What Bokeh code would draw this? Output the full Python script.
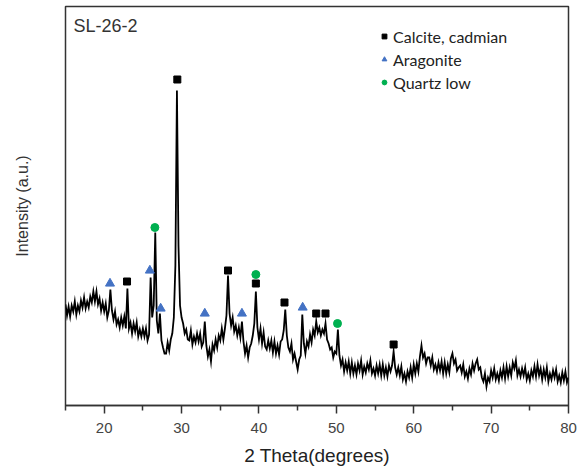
import numpy as np
from bokeh.plotting import figure
from bokeh.models import Range1d, FixedTicker, Legend, LegendItem, Label
from bokeh.embed import file_html
from bokeh.resources import INLINE

intensity = [
    101, 90, 99, 89, 100,    # 15
    94, 104, 91, 100, 94,    # 16
    105, 98, 108, 97, 104,   # 17
    98, 109, 103, 114, 104,  # 18
    114, 101, 107, 95, 103,  # 19
    94, 102, 88, 95, 116,    # 20
    95, 86, 94, 81, 86,      # 21
    78, 88, 80, 89, 77,      # 22
    117, 77, 83, 72, 82,     # 23
    74, 83, 69, 76, 69,      # 24
    77, 69, 77, 65, 71,      # 25
    128, 88, 100, 173, 85,   # 26
    72, 92, 65, 58, 52,      # 27
    52, 63, 55, 66, 72,      # 28
    88, 140, 315, 160, 100,  # 29
    88, 82, 72, 76, 66,      # 30
    65, 75, 61, 69, 63,      # 31
    72, 64, 72, 59, 63,      # 32
    84, 60, 49, 56, 44,      # 33
    61, 55, 66, 58, 70,      # 34
    65, 77, 66, 77, 90,      # 35
    130, 92, 80, 88, 74,     # 36
    80, 70, 78, 68, 84,      # 37
    64, 52, 60, 48, 58,      # 38
    62, 70, 82, 114, 78,     # 39
    66, 77, 62, 73, 59,      # 40
    56, 65, 57, 65, 53,      # 41
    64, 52, 60, 51, 64,      # 42
    66, 75, 96, 70, 58,      # 43
    54, 62, 46, 52, 44,      # 44
    36, 46, 50, 91, 62,      # 45
    52, 64, 59, 71, 63,      # 46
    76, 70, 84, 73, 78,      # 47
    70, 76, 72, 82, 66,      # 48
    62, 56, 58, 48, 54,      # 49
    52, 76, 50, 40, 46,      # 50
    34, 43, 35, 44, 32,      # 51
    43, 32, 40, 31, 42,      # 52
    35, 45, 31, 39, 33,      # 53
    42, 36, 45, 32, 37,      # 54
    30, 40, 32, 41, 30,      # 55
    41, 30, 38, 29, 40,      # 56
    34, 40, 54, 38, 31,      # 57
    38, 30, 39, 26, 32,      # 58
    24, 34, 28, 38, 28,      # 59
    41, 32, 42, 34, 49,      # 60
    60, 48, 52, 42, 48,      # 61
    48, 40, 48, 36, 41,      # 62
    34, 43, 35, 44, 32,      # 63
    43, 32, 41, 33, 47,      # 64
    52, 42, 46, 35, 38,      # 65
    40, 33, 41, 29, 34,      # 66
    27, 37, 31, 42, 35,      # 67
    42, 46, 36, 38, 28,      # 68
    24, 32, 19, 28, 24,      # 69
    35, 28, 37, 26, 32,      # 70
    25, 35, 28, 38, 27,      # 71
    39, 29, 38, 30, 43,      # 72
    37, 45, 30, 36, 29,      # 73
    37, 30, 38, 26, 32,      # 74
    25, 35, 29, 39, 29,      # 75
    41, 30, 37, 26, 36,      # 76
    28, 38, 24, 32, 26,      # 77
    35, 28, 36, 24, 30,      # 78
    23, 33, 25, 34, 23,      # 79
    28,                      # 80
]
two_theta = [round(15 + 0.2 * i, 1) for i in range(len(intensity))]

# phase identification markers
calcite_x = [22.95, 29.45, 36.0, 39.6, 43.3, 47.4, 48.6, 57.4]
calcite_y = [124, 326, 135, 122, 103, 92, 92, 61]
aragonite_x = [20.75, 25.9, 27.3, 33.0, 37.8, 45.65]
aragonite_y = [122, 135, 97, 92, 92, 98]
quartz_x = [26.55, 39.6, 50.15]
quartz_y = [178, 131, 82]

x_ticks = [20, 30, 40, 50, 60, 70, 80]
x_minor = [15, 25, 35, 45, 55, 65, 75]

p = figure(width=584, height=474, x_range=Range1d(15, 80), y_range=Range1d(0, 399),
           output_backend="svg", toolbar_location=None,
           min_border_left=65, min_border_right=16, min_border_top=6, min_border_bottom=69)
p.xgrid.visible = False
p.ygrid.visible = False
p.background_fill_color = "white"
p.border_fill_color = "white"
p.outline_line_color = "#333333"
p.outline_line_width = 1.5

p.line(two_theta, intensity, line_color="black", line_width=1.8, line_join="miter")

r_cal = p.scatter(calcite_x, calcite_y, marker="square", size=7, fill_color="black", line_color="black")
r_ara = p.scatter(aragonite_x, aragonite_y, marker="triangle", size=9, fill_color="#4472c4", line_color="#4472c4")
r_qtz = p.scatter(quartz_x, quartz_y, marker="circle", size=8, fill_color="#00b050", line_color="#00b050")

xa = p.xaxis[0]
xa.ticker = FixedTicker(ticks=x_ticks, minor_ticks=x_minor)
xa.axis_line_color = "#333333"
xa.axis_line_width = 1.5
xa.major_tick_in = 0
xa.major_tick_out = 8
xa.minor_tick_in = 0
xa.minor_tick_out = 5
xa.major_tick_line_color = "#333333"
xa.major_tick_line_width = 1.5
xa.minor_tick_line_color = "#333333"
xa.minor_tick_line_width = 1.5
xa.major_label_standoff = 9
xa.major_label_text_font = "Liberation Sans"
xa.major_label_text_font_size = "15px"
xa.major_label_text_color = "#444444"
xa.axis_label = "2 Theta(degrees)"
xa.axis_label_text_font = "Liberation Sans"
xa.axis_label_text_font_size = "19px"
xa.axis_label_text_font_style = "normal"
xa.axis_label_text_color = "#222222"
xa.axis_label_standoff = 9

ya = p.yaxis[0]
ya.ticker = FixedTicker(ticks=[])
ya.axis_line_color = None
ya.major_tick_line_color = None
ya.minor_tick_line_color = None
ya.major_label_text_font_size = "0px"
ya.axis_label = "Intensity (a.u.)"
ya.axis_label_text_font = "Liberation Sans"
ya.axis_label_text_font_size = "16px"
ya.axis_label_text_font_style = "normal"
ya.axis_label_text_color = "#333333"
ya.axis_label_standoff = 35

legend = Legend(items=[
    LegendItem(label="Calcite, cadmian", renderers=[r_cal]),
    LegendItem(label="Aragonite", renderers=[r_ara]),
    LegendItem(label="Quartz low", renderers=[r_qtz]),
], location=(313, 313))
legend.border_line_color = None
legend.background_fill_alpha = 0
legend.padding = 0
legend.margin = 0
legend.spacing = 3
legend.glyph_width = 12
legend.glyph_height = 20
legend.label_height = 20
legend.label_standoff = 3
legend.label_text_font = "Lato"
legend.label_text_font_size = "16px"
legend.label_text_color = "#222222"
p.add_layout(legend, "center")

p.add_layout(Label(x=8, y=380, x_units="screen", y_units="screen", text="SL-26-2",
                   text_font="Liberation Sans", text_font_size="18px",
                   text_color="#333333", text_baseline="middle"))

open("out.html", "w").write(file_html(p, INLINE))
